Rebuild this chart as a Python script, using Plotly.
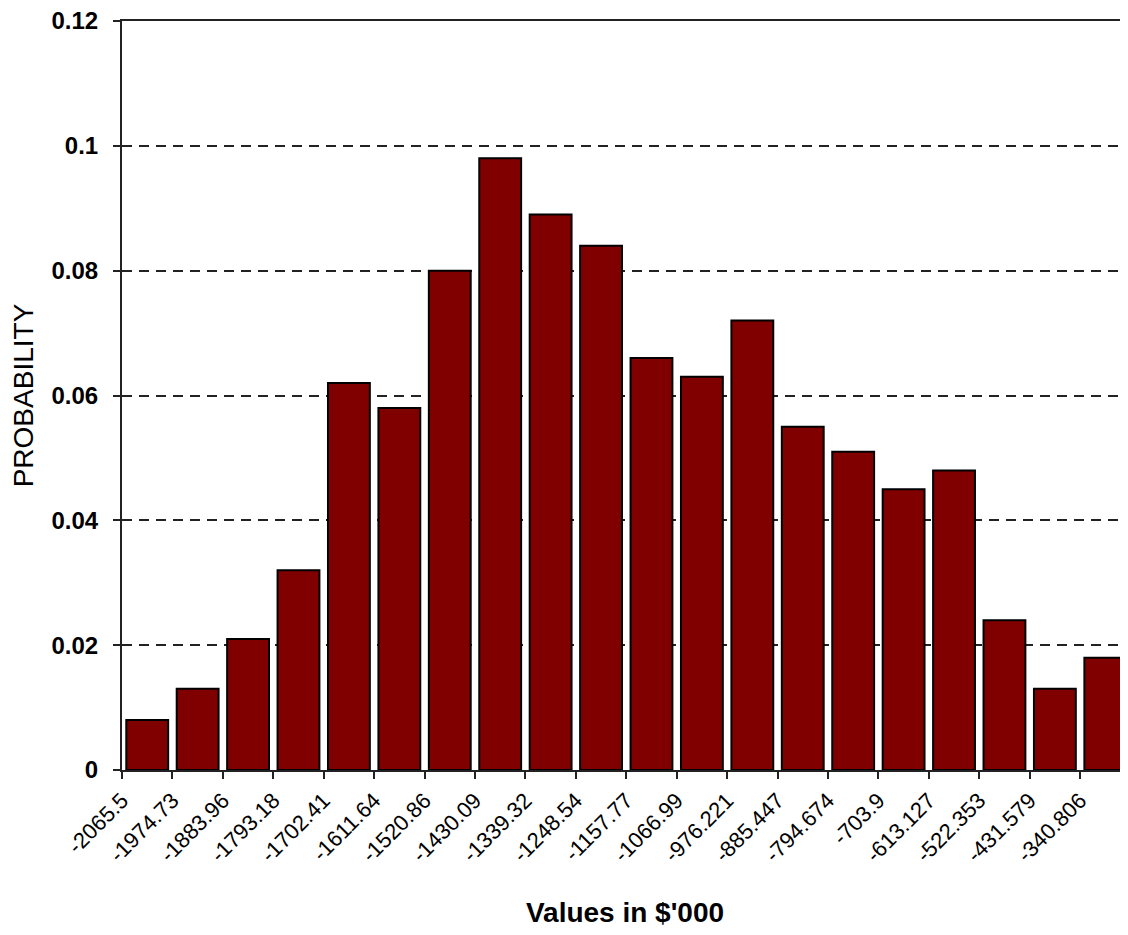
import plotly.graph_objects as go

bin_labels = ["-2065.5", "-1974.73", "-1883.96", "-1793.18", "-1702.41", "-1611.64",
              "-1520.86", "-1430.09", "-1339.32", "-1248.54", "-1157.77", "-1066.99",
              "-976.221", "-885.447", "-794.674", "-703.9", "-613.127", "-522.353",
              "-431.579", "-340.806"]
probabilities = [0.008, 0.013, 0.021, 0.032, 0.062, 0.058, 0.080, 0.098, 0.089, 0.084,
                 0.066, 0.063, 0.072, 0.055, 0.051, 0.045, 0.048, 0.024, 0.013, 0.018]
y_ticks = [0, 0.02, 0.04, 0.06, 0.08, 0.1, 0.12]
y_tick_text = ["0", "0.02", "0.04", "0.06", "0.08", "0.1", "0.12"]

positions = [i + 0.5 for i in range(len(probabilities))]
tick_positions = list(range(len(bin_labels)))

FONT = "Liberation Sans, Arial, sans-serif"

fig = go.Figure()
fig.add_trace(go.Bar(
    x=positions, y=probabilities, width=0.83,
    marker=dict(color="#800000", line=dict(color="#000000", width=2)),
))

fig.update_layout(
    width=1120, height=927,
    margin=dict(l=114, r=0, t=13, b=165),
    plot_bgcolor="white", paper_bgcolor="white",
    showlegend=False,
    font=dict(family=FONT, color="black"),
)

fig.update_xaxes(
    type="linear", range=[0, 19.95],
    tickmode="array", tickvals=tick_positions, ticktext=bin_labels,
    tickangle=-45, tickfont=dict(family=FONT, size=22, color="black"),
    ticks="outside", ticklen=7, tickwidth=2, tickcolor="#222",
    showline=True, linecolor="#222", linewidth=2, mirror=True,
    showgrid=False, zeroline=False,
    title=dict(text="<b>Values in $'000</b>", font=dict(family=FONT, size=28, color="black"), standoff=36),
)

fig.update_yaxes(
    range=[0, 0.12],
    tickmode="array", tickvals=y_ticks, ticktext=[f"<b>{t}</b>" for t in y_tick_text],
    tickfont=dict(family=FONT, size=24, color="black"),
    ticks="outside", ticklen=7, tickwidth=2, tickcolor="#222",
    ticklabelstandoff=10, ticklabeloverflow="allow",
    showline=True, linecolor="#222", linewidth=2,
    showgrid=True, gridcolor="#222", gridwidth=2, griddash="10px,7px",
    zeroline=False,
    title=dict(text="PROBABILITY", font=dict(family=FONT, size=28, color="black"), standoff=12),
)

fig.write_html("out.html")
